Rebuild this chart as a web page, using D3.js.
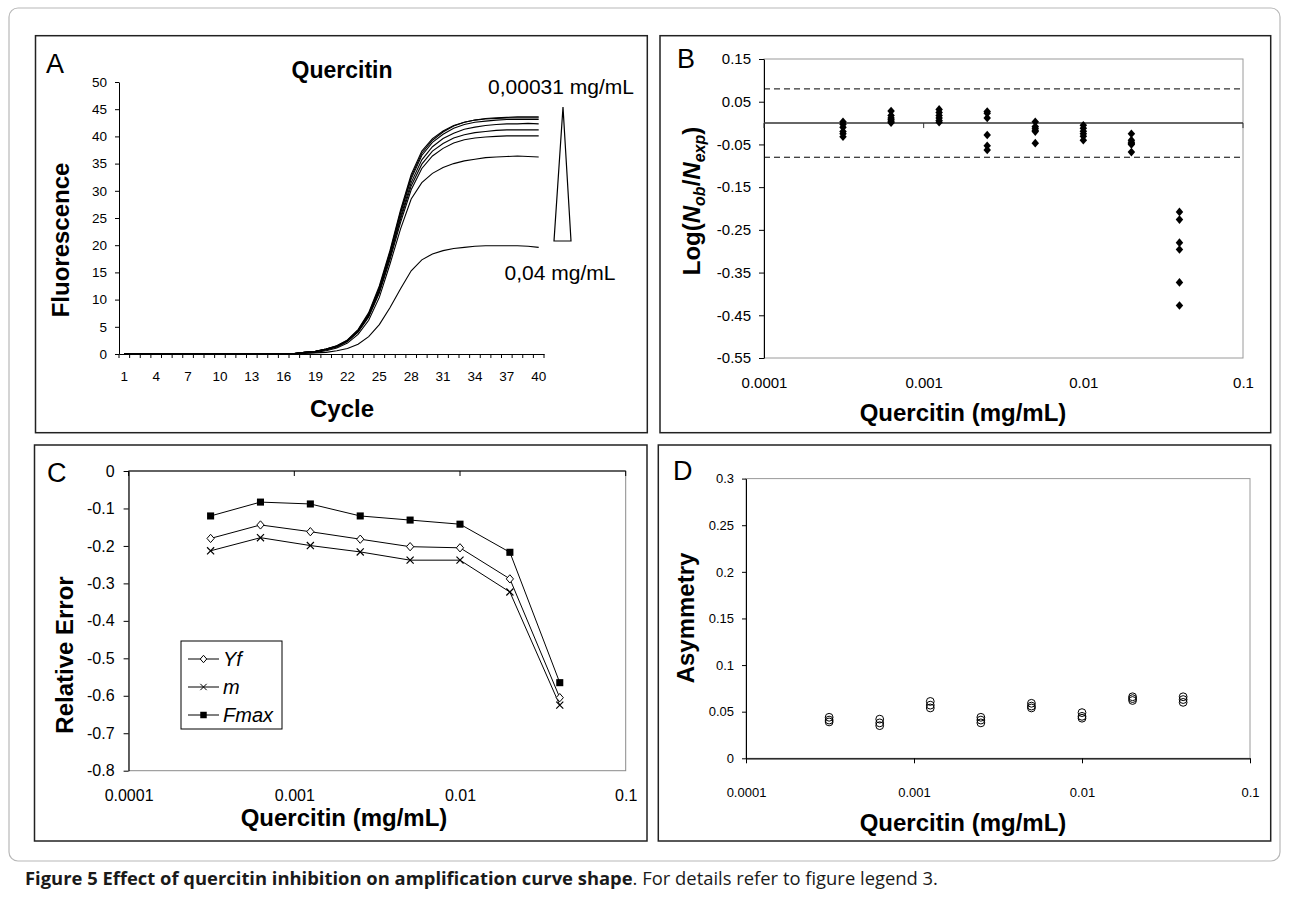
<!DOCTYPE html>
<html>
<head>
<meta charset="utf-8">
<script src="https://cdn.jsdelivr.net/npm/d3@7"></script>
<style>
body { margin: 0; background: #fff; }
text { font-family: "Liberation Sans", Arial, sans-serif; fill: #000; }
</style>
</head>
<body>
<svg id="fig" width="1289" height="907"></svg>
<script>
// ---- data ----
var cycles = [1,2,3,4,5,6,7,8,9,10,11,12,13,14,15,16,17,18,19,20,21,22,23,24,25,26,27,28,29,30,31,32,33,34,35,36,37,38,39,40];
var cycleLabels = [1,4,7,10,13,16,19,22,25,28,31,34,37,40];
var fluoTicks = [0,5,10,15,20,25,30,35,40,45,50];

// panel A: fluorescence per cycle, one array per quercitin concentration
var fluo00031 = [0.1,0.1,0.1,0.1,0.1,0.1,0.1,0.1,0.1,0.1,0.1,0.1,0.1,0.1,0.1,0.1,0.1,0.3,0.5,0.9,1.5,2.6,4.5,7.6,12.5,19.0,26.5,33.0,37.3,39.6,41.0,42.0,42.6,43.0,43.3,43.4,43.5,43.6,43.6,43.6];
var fluo00063 = [0.1,0.1,0.1,0.1,0.1,0.1,0.1,0.1,0.1,0.1,0.1,0.1,0.1,0.1,0.1,0.1,0.1,0.3,0.5,0.9,1.5,2.5,4.4,7.4,12.2,18.7,26.1,32.6,36.9,39.3,40.8,41.9,42.6,43.0,43.2,43.3,43.4,43.4,43.4,43.4];
var fluo00125 = [0.1,0.1,0.1,0.1,0.1,0.1,0.1,0.1,0.1,0.1,0.1,0.1,0.1,0.1,0.1,0.1,0.1,0.3,0.5,0.9,1.4,2.5,4.3,7.3,12.0,18.4,25.8,32.2,36.5,38.9,40.4,41.5,42.2,42.6,42.8,43.0,43.1,43.1,43.1,43.1];
var fluo0025 = [0.1,0.1,0.1,0.1,0.1,0.1,0.1,0.1,0.1,0.1,0.1,0.1,0.1,0.1,0.1,0.1,0.1,0.3,0.5,0.8,1.4,2.4,4.2,7.1,11.7,18.0,25.2,31.5,35.7,38.1,39.6,40.6,41.3,41.7,42.0,42.2,42.3,42.3,42.4,42.3];
var fluo005 = [0.1,0.1,0.1,0.1,0.1,0.1,0.1,0.1,0.1,0.1,0.1,0.1,0.1,0.1,0.1,0.1,0.1,0.3,0.5,0.8,1.4,2.4,4.1,7.0,11.5,17.7,24.8,30.9,34.9,37.3,38.7,39.7,40.3,40.7,40.9,41.1,41.2,41.2,41.2,41.2];
var fluo001 = [0.1,0.1,0.1,0.1,0.1,0.1,0.1,0.1,0.1,0.1,0.1,0.1,0.1,0.1,0.1,0.1,0.1,0.3,0.4,0.8,1.3,2.3,4.0,6.8,11.2,17.3,24.2,30.2,34.1,36.4,37.8,38.8,39.4,39.7,39.9,40.0,40.1,40.1,40.1,40.1];
var fluo002 = [0.1,0.1,0.1,0.1,0.1,0.1,0.1,0.1,0.1,0.1,0.1,0.1,0.1,0.1,0.1,0.1,0.1,0.2,0.3,0.6,1.1,2.0,3.6,6.2,10.4,16.5,23.0,28.5,31.5,33.2,34.3,35.0,35.5,35.8,36.1,36.2,36.3,36.4,36.3,36.2];
var fluo004 = [0.1,0.1,0.1,0.1,0.1,0.1,0.1,0.1,0.1,0.1,0.1,0.1,0.1,0.1,0.1,0.1,0.0,0.1,0.2,0.3,0.6,1.0,1.8,3.2,5.4,8.5,12.0,15.3,17.3,18.4,19.0,19.4,19.6,19.8,19.9,19.9,19.9,19.9,19.8,19.6];

// concentrations (mg/mL) used in panels B, C, D
var conc = [0.0003125, 0.000625, 0.00125, 0.0025, 0.005, 0.01, 0.02, 0.04];
var decades = [0.0001, 0.001, 0.01, 0.1];
var decadeLabels = ["0.0001", "0.001", "0.01", "0.1"];

// panel B: log(Nob/Nexp), replicates per concentration
var logRatio = [
  [0.003, -0.003, -0.010, -0.020, -0.025, -0.032],
  [0.028, 0.018, 0.012, 0.008, 0.004, 0.001],
  [0.032, 0.025, 0.018, 0.012, 0.006, 0.002],
  [0.027, 0.023, 0.012, -0.028, -0.053, -0.063],
  [0.003, -0.008, -0.012, -0.017, -0.020, -0.047],
  [-0.005, -0.012, -0.019, -0.025, -0.031, -0.040],
  [-0.025, -0.040, -0.045, -0.048, -0.050, -0.068],
  [-0.208, -0.226, -0.280, -0.296, -0.373, -0.427]
];
var logTicks = [0.15, 0.05, -0.05, -0.15, -0.25, -0.35, -0.45, -0.55];
var limitBand = [0.08, -0.08];

// panel C: relative error
var errYf = [-0.180, -0.144, -0.162, -0.182, -0.202, -0.205, -0.288, -0.605];
var errM = [-0.213, -0.178, -0.199, -0.216, -0.238, -0.238, -0.323, -0.625];
var errFmax = [-0.120, -0.083, -0.088, -0.120, -0.131, -0.142, -0.217, -0.565];
var errTicks = [0, -0.1, -0.2, -0.3, -0.4, -0.5, -0.6, -0.7, -0.8];

// panel D: asymmetry, replicates per concentration
var asym = [
  [0.044, 0.041, 0.039],
  [0.042, 0.038, 0.035],
  [0.061, 0.057, 0.054],
  [0.044, 0.041, 0.038],
  [0.059, 0.056, 0.054],
  [0.049, 0.045, 0.043],
  [0.066, 0.064, 0.062],
  [0.066, 0.063, 0.060]
];
var asymTicks = [0, 0.05, 0.1, 0.15, 0.2, 0.25, 0.3];

// ---- drawing ----
var svg = d3.select('#fig');
svg.append('rect').attr('width', 1289).attr('height', 907).attr('fill', '#fff');

// outer rounded frame
svg.append('rect')
  .attr('x', 9).attr('y', 8).attr('width', 1271).attr('height', 853).attr('rx', 9)
  .attr('fill', 'none').attr('stroke', '#b8b8b8').attr('stroke-width', 1.2);

// panel boxes
[[35.5, 35.7, 611.8, 397], [660, 35.7, 610.7, 397], [34.5, 445, 612.5, 396], [658.3, 445, 612.4, 396]]
  .forEach(function(b) {
    svg.append('rect').attr('x', b[0]).attr('y', b[1]).attr('width', b[2]).attr('height', b[3])
      .attr('fill', 'none').attr('stroke', '#222').attr('stroke-width', 1.5);
  });

function fixAxis(g, size) {
  g.attr('font-family', null).attr('font-size', size);
  g.selectAll('path.domain').attr('stroke', '#000');
  g.selectAll('.tick line').attr('stroke', '#000');
  g.selectAll('.tick text').attr('fill', '#000');
}

function yTitle(x, y, txt) {
  return svg.append('text')
    .attr('transform', 'translate(' + x + ',' + y + ') rotate(-90)')
    .attr('text-anchor', 'middle').attr('dy', '0.35em')
    .attr('font-weight', 'bold').attr('font-size', 24)
    .text(txt);
}

function xTitle(x, y, txt) {
  return svg.append('text').attr('x', x).attr('y', y)
    .attr('text-anchor', 'middle').attr('font-weight', 'bold').attr('font-size', 24)
    .text(txt);
}

function panelLetter(x, y, txt) {
  svg.append('text').attr('x', x).attr('y', y).attr('font-size', 27).text(txt);
}

// custom marker shapes
var diamond = { draw: function(ctx, size) {
  var r = Math.sqrt(size) / 2;
  ctx.moveTo(0, -r * 1.15); ctx.lineTo(r, 0); ctx.lineTo(0, r * 1.15); ctx.lineTo(-r, 0); ctx.closePath();
}};
var cross = { draw: function(ctx, size) {
  var r = Math.sqrt(size) / 2;
  ctx.moveTo(-r, -r); ctx.lineTo(r, r); ctx.moveTo(r, -r); ctx.lineTo(-r, r);
}};

// ================= A =================
var xA = d3.scaleBand().domain(cycles).range([119, 544]);
var yA = d3.scaleLinear().domain([0, 50]).range([354, 82]);

var ayA = svg.append('g').attr('transform', 'translate(119,0)')
  .call(d3.axisLeft(yA).tickValues(fluoTicks).tickSize(4).tickSizeOuter(0).tickPadding(8));
fixAxis(ayA, 13.5);

var axA = svg.append('g').attr('transform', 'translate(0,354)')
  .call(d3.axisBottom(xA).tickValues(cycleLabels).tickSize(0).tickSizeOuter(0).tickPadding(17));
fixAxis(axA, 13.5);

// tick marks between the categories
svg.selectAll('.bndA').data(cycles.concat(['end'])).enter().append('line')
  .attr('x1', function(d) { return d === 'end' ? xA.range()[1] : xA(d); })
  .attr('x2', function(d) { return d === 'end' ? xA.range()[1] : xA(d); })
  .attr('y1', 354).attr('y2', 358)
  .attr('stroke', '#000');

var lineA = d3.line()
  .x(function(d, i) { return xA(cycles[i]) + xA.bandwidth() / 2; })
  .y(function(d) { return yA(d); });

svg.selectAll('.curveA')
  .data([fluo004, fluo002, fluo001, fluo005, fluo0025, fluo00125, fluo00063, fluo00031])
  .enter().append('path')
  .attr('d', lineA)
  .attr('fill', 'none').attr('stroke', '#000').attr('stroke-width', 1.1);

svg.append('text').attr('x', 342).attr('y', 78).attr('text-anchor', 'middle')
  .attr('font-weight', 'bold').attr('font-size', 23).text('Quercitin');
svg.append('text').attr('x', 561).attr('y', 94).attr('text-anchor', 'middle')
  .attr('font-size', 21).text('0,00031 mg/mL');
svg.append('text').attr('x', 560).attr('y', 280).attr('text-anchor', 'middle')
  .attr('font-size', 21).text('0,04 mg/mL');
svg.append('path').attr('d', 'M563,107L571,241L554,241Z')
  .attr('fill', '#fff').attr('stroke', '#000').attr('stroke-width', 1.2);

panelLetter(46, 73, 'A');
yTitle(61, 240, 'Fluorescence');
xTitle(342, 417, 'Cycle');

// ================= B =================
var xB = d3.scaleLog().domain([0.0001, 0.1]).range([764, 1243]);
var yB = d3.scaleLinear().domain([-0.55, 0.15]).range([358, 59]);

svg.append('rect').attr('x', xB(0.0001)).attr('y', yB(0.15))
  .attr('width', xB(0.1) - xB(0.0001)).attr('height', yB(-0.55) - yB(0.15))
  .attr('fill', 'none').attr('stroke', '#9a9a9a');

var ayB = svg.append('g').attr('transform', 'translate(764,0)')
  .call(d3.axisLeft(yB).tickValues(logTicks).tickSize(5).tickSizeOuter(0).tickPadding(8)
    .tickFormat(function(d) { return String(+d.toFixed(2)); }));
fixAxis(ayB, 15);

var axB = svg.append('g').attr('transform', 'translate(0,358)')
  .call(d3.axisBottom(xB).tickValues(decades).tickSize(0).tickPadding(19)
    .tickFormat(function(d, i) { return decadeLabels[i]; }));
fixAxis(axB, 15);
axB.select('path.domain').remove();

// horizontal axis crossing at zero
svg.append('line').attr('x1', xB(0.0001)).attr('x2', xB(0.1)).attr('y1', yB(0)).attr('y2', yB(0))
  .attr('stroke', '#333').attr('stroke-width', 1.4);
svg.selectAll('.tkB').data(decades).enter().append('line')
  .attr('x1', function(d) { return xB(d); }).attr('x2', function(d) { return xB(d); })
  .attr('y1', yB(0)).attr('y2', yB(0) + 5).attr('stroke', '#333');

svg.selectAll('.limB').data(limitBand).enter().append('line')
  .attr('x1', xB(0.0001)).attr('x2', xB(0.1))
  .attr('y1', function(d) { return yB(d); }).attr('y2', function(d) { return yB(d); })
  .attr('stroke', '#000').attr('stroke-width', 1).attr('stroke-dasharray', '6,4');

var ptsB = [];
logRatio.forEach(function(reps, i) {
  reps.forEach(function(v) { ptsB.push({ c: conc[i], v: v }); });
});
svg.selectAll('.ptB').data(ptsB).enter().append('path')
  .attr('transform', function(d) { return 'translate(' + xB(d.c) + ',' + yB(d.v) + ')'; })
  .attr('d', d3.symbol().type(diamond).size(56))
  .attr('fill', '#000');

panelLetter(677, 68, 'B');
var tB = svg.append('text')
  .attr('transform', 'translate(691.5,201) rotate(-90)')
  .attr('text-anchor', 'middle').attr('dy', '0.35em')
  .attr('font-weight', 'bold').attr('font-size', 24);
tB.append('tspan').text('Log(');
tB.append('tspan').attr('font-style', 'italic').text('N');
tB.append('tspan').attr('font-style', 'italic').attr('font-size', 16).attr('dy', 5).text('ob');
tB.append('tspan').attr('dy', -5).text('/');
tB.append('tspan').attr('font-style', 'italic').text('N');
tB.append('tspan').attr('font-style', 'italic').attr('font-size', 16).attr('dy', 5).text('exp');
tB.append('tspan').attr('dy', -5).text(')');
xTitle(963, 421, 'Quercitin (mg/mL)');

// ================= C =================
var xC = d3.scaleLog().domain([0.0001, 0.1]).range([128.6, 625.7]);
var yC = d3.scaleLinear().domain([-0.8, 0]).range([770.7, 471]);

svg.append('rect').attr('x', xC(0.0001)).attr('y', yC(0))
  .attr('width', xC(0.1) - xC(0.0001)).attr('height', yC(-0.8) - yC(0))
  .attr('fill', 'none').attr('stroke', '#8a8a8a');

var ayC = svg.append('g').attr('transform', 'translate(128.6,0)')
  .call(d3.axisLeft(yC).tickValues(errTicks).tickSize(5).tickSizeOuter(0).tickPadding(9)
    .tickFormat(function(d) { return String(+d.toFixed(2)); }));
fixAxis(ayC, 16);

var axC = svg.append('g').attr('transform', 'translate(0,770.7)')
  .call(d3.axisBottom(xC).tickValues(decades).tickSize(0).tickPadding(19)
    .tickFormat(function(d, i) { return decadeLabels[i]; }));
fixAxis(axC, 16);
axC.select('path.domain').remove();

svg.append('line').attr('x1', xC(0.0001)).attr('x2', xC(0.1)).attr('y1', yC(0)).attr('y2', yC(0))
  .attr('stroke', '#000').attr('stroke-width', 1.2);
svg.selectAll('.tkC').data(decades).enter().append('line')
  .attr('x1', function(d) { return xC(d); }).attr('x2', function(d) { return xC(d); })
  .attr('y1', yC(0)).attr('y2', yC(0) + 5).attr('stroke', '#000');

var lineC = d3.line()
  .x(function(d, i) { return xC(conc[i]); })
  .y(function(d) { return yC(d); });

[errFmax, errYf, errM].forEach(function(s) {
  svg.append('path').datum(s).attr('d', lineC)
    .attr('fill', 'none').attr('stroke', '#000').attr('stroke-width', 1);
});

svg.selectAll('.mkYf').data(errYf).enter().append('path')
  .attr('transform', function(d, i) { return 'translate(' + xC(conc[i]) + ',' + yC(d) + ')'; })
  .attr('d', d3.symbol().type(diamond).size(52))
  .attr('fill', '#fff').attr('stroke', '#000').attr('stroke-width', 1);
svg.selectAll('.mkM').data(errM).enter().append('path')
  .attr('transform', function(d, i) { return 'translate(' + xC(conc[i]) + ',' + yC(d) + ')'; })
  .attr('d', d3.symbol().type(cross).size(50))
  .attr('fill', 'none').attr('stroke', '#000').attr('stroke-width', 1.2);
svg.selectAll('.mkF').data(errFmax).enter().append('path')
  .attr('transform', function(d, i) { return 'translate(' + xC(conc[i]) + ',' + yC(d) + ')'; })
  .attr('d', d3.symbol().type(d3.symbolSquare).size(50))
  .attr('fill', '#000');

// legend
var legC = svg.append('g').attr('transform', 'translate(181,641)');
legC.append('rect').attr('width', 101).attr('height', 88)
  .attr('fill', '#fff').attr('stroke', '#000');
var legItems = [
  { name: 'Yf', type: diamond, fill: '#fff' },
  { name: 'm', type: cross, fill: 'none' },
  { name: 'Fmax', type: d3.symbolSquare, fill: '#000' }
];
legItems.forEach(function(it, i) {
  var y = 18 + i * 28;
  legC.append('line').attr('x1', 7).attr('x2', 38).attr('y1', y).attr('y2', y).attr('stroke', '#000');
  legC.append('path').attr('transform', 'translate(22.5,' + y + ')')
    .attr('d', d3.symbol().type(it.type).size(it.name === 'm' ? 40 : 42))
    .attr('fill', it.fill).attr('stroke', it.name === 'Fmax' ? 'none' : '#000');
  legC.append('text').attr('x', 42).attr('y', y).attr('dy', '0.36em')
    .attr('font-style', 'italic').attr('font-size', 20).text(it.name);
});

panelLetter(47, 482, 'C');
yTitle(65, 655, 'Relative Error');
xTitle(344, 826, 'Quercitin (mg/mL)');

// ================= D =================
var xD = d3.scaleLog().domain([0.0001, 0.1]).range([746, 1250]);
var yD = d3.scaleLinear().domain([0, 0.3]).range([758.3, 478.6]);

svg.append('rect').attr('x', xD(0.0001)).attr('y', yD(0.3))
  .attr('width', xD(0.1) - xD(0.0001)).attr('height', yD(0) - yD(0.3))
  .attr('fill', 'none').attr('stroke', '#9a9a9a');

var ayD = svg.append('g').attr('transform', 'translate(746,0)')
  .call(d3.axisLeft(yD).tickValues(asymTicks).tickSize(4).tickSizeOuter(0).tickPadding(8)
    .tickFormat(function(d) { return String(+d.toFixed(2)); }));
fixAxis(ayD, 13);

var axD = svg.append('g').attr('transform', 'translate(0,758.3)')
  .call(d3.axisBottom(xD).tickValues(decades).tickSize(5).tickSizeOuter(0).tickPadding(24)
    .tickFormat(function(d, i) { return decadeLabels[i]; }));
fixAxis(axD, 13);
axD.select('path.domain').attr('stroke-width', 1.3);

var ptsD = [];
asym.forEach(function(reps, i) {
  reps.forEach(function(v) { ptsD.push({ c: conc[i], v: v }); });
});
svg.selectAll('.ptD').data(ptsD).enter().append('circle')
  .attr('cx', function(d) { return xD(d.c); })
  .attr('cy', function(d) { return yD(d.v); })
  .attr('r', 3.9)
  .attr('fill', 'none').attr('stroke', '#000').attr('stroke-width', 1);

panelLetter(673, 480, 'D');
yTitle(686, 618, 'Asymmetry');
xTitle(963, 831, 'Quercitin (mg/mL)');

// ---- caption ----
var cap = svg.append('text').attr('x', 25).attr('y', 885)
  .style('font-family', '"Open Sans", "Noto Sans", sans-serif').attr('font-size', 18.4);
cap.append('tspan').attr('font-weight', 'bold').attr('fill', '#1a1a1a')
  .text('Figure 5 Effect of quercitin inhibition on amplification curve shape');
cap.append('tspan').attr('fill', '#1a1a1a').text('. For details refer to figure legend 3.');
</script>
</body>
</html>
